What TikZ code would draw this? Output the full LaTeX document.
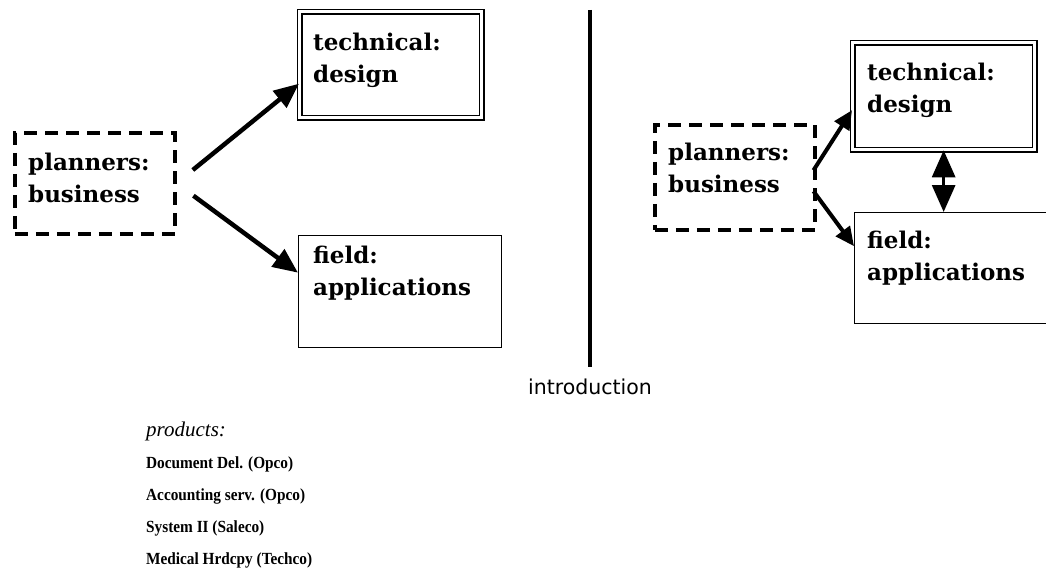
\documentclass[tikz,border=0pt]{standalone}
\usepackage{fontspec}
\setmainfont{Liberation Serif}
\newfontfamily\boxfont{DejaVu Serif}
\newfontfamily\capfont{DejaVu Sans}
\newfontfamily\listfont{Liberation Serif}[FakeStretch=0.9]
\usetikzlibrary{arrows.meta,calc}

\begin{document}
\begin{tikzpicture}[x=1pt,y=-1pt,
  boxlabel/.style={anchor=north west, inner sep=0pt, align=left,
    font=\boxfont\bfseries\fontsize{23}{32}\selectfont},
  dashbox/.style={draw, line width=3.5pt, dash pattern=on 13pt off 8pt,
    anchor=north west, inner sep=0pt},
  framebox/.style={draw, line width=1.4pt, anchor=north west, inner sep=0pt},
  dframe/.style={draw, double, line width=1.3pt, double distance=3.2pt,
    anchor=north west, inner sep=0pt},
  flow/.style={line width=4.5pt, -{Triangle[length=25pt,width=21pt]}},
  flowsmall/.style={line width=4pt, -{Triangle[length=19pt,width=17pt]}},
  link/.style={line width=3pt, {Triangle[length=27pt,width=23pt]}-{Triangle[length=27pt,width=23pt]}},
]
\useasboundingbox (0,0) rectangle (1046,586);

% ---- left scheme
\node[dashbox, minimum width=160pt, minimum height=101pt] (plan1) at (13,131) {};
\node[dframe, minimum width=182pt, minimum height=106pt] (tech1) at (299,11) {};
\node[framebox, minimum width=203pt, minimum height=112pt] (field1) at (298,235) {};
\node[boxlabel] at ($(plan1.north west)+(15,21.5)$) {planners:\\business};
\node[boxlabel] at ($(tech1.north west)+(14,21.5)$) {technical:\\design};
\node[boxlabel] at ($(field1.north west)+(15,10.5)$) {field:\\applications};

\draw[flow, shorten <=21pt] (plan1.east) -- ($(tech1.west)+(0,19)$);
\draw[flow, shorten <=21pt] (plan1.east) -- ($(field1.west)+(0,-19)$);

% ---- divider
\coordinate (divtop) at (590,10);
\coordinate (divbot) at (590,367);
\draw[line width=4pt] (divtop) -- (divbot);
\node[font=\capfont\fontsize{20.5}{24}\selectfont, anchor=base] (intro) at (590,394) {introduction};

% ---- right scheme
\node[dashbox, minimum width=160pt, minimum height=105pt] (plan2) at (653,123) {};
\node[dframe, minimum width=182pt, minimum height=107pt] (tech2) at (852,42) {};
\node[framebox, minimum width=200pt, minimum height=111pt] (field2) at (854,212) {};
\node[boxlabel] at ($(plan2.north west)+(15,19.5)$) {planners:\\business};
\node[boxlabel] at ($(tech2.north west)+(15,20.5)$) {technical:\\design};
\node[boxlabel] at ($(field2.north west)+(13,18.5)$) {field:\\applications};

\draw[flowsmall] ($(plan2.east)+(-3,-7)$) -- ($(tech2.west)+(0,14)$);
\draw[flowsmall] ($(plan2.east)+(-3,14)$) -- ($(field2.west)+(0,-22)$);
\draw[link] (tech2.south) -- (tech2.south |- field2.north);

% ---- product list
\node[anchor=north west, inner sep=0pt, font=\itshape\fontsize{21}{24}\selectfont] (prodhead) at (146,421.5) {products:};
\node[anchor=north west, inner sep=0pt, align=left,
  font=\listfont\bfseries\fontsize{17}{32}\selectfont] (prodlist) at (146,456.5)
  {Document Del. (Opco)\\Accounting serv. (Opco)\\System II (Saleco)\\Medical Hrdcpy (Techco)};
\end{tikzpicture}
\end{document}
